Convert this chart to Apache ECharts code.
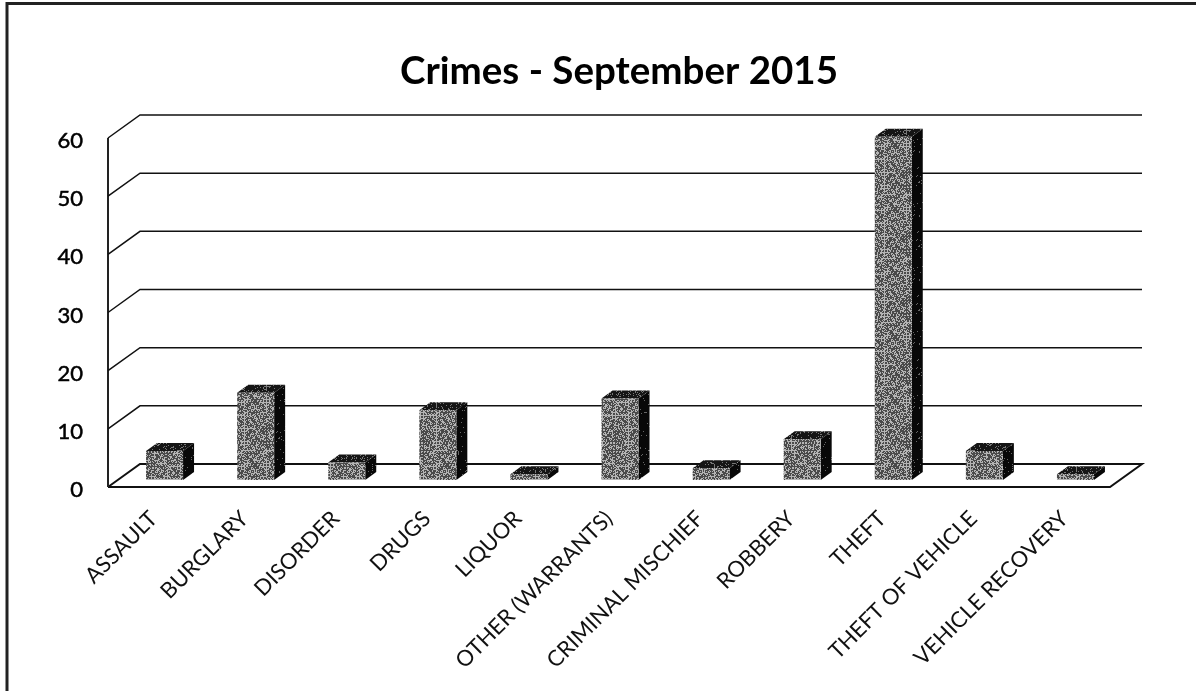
<!DOCTYPE html>
<html><head><meta charset="utf-8">
<style>html,body{margin:0;padding:0;background:#fff}#c{width:1196px;height:691px}</style>
<script src="https://cdn.jsdelivr.net/npm/echarts@6/dist/echarts.min.js"></script>
</head><body><div id="c"></div>
<script>
const categories = ['ASSAULT','BURGLARY','DISORDER','DRUGS','LIQUOR','OTHER (WARRANTS)','CRIMINAL MISCHIEF','ROBBERY','THEFT','THEFT OF VEHICLE','VEHICLE RECOVERY'];
const crimeCounts = [5,15,3,12,1,14,2,7,59,5,1];
const yTicks = [0,10,20,30,40,50,60];

function speckle(light, dark, bias){
  const size = 64, cv = document.createElement('canvas');
  cv.width = cv.height = size;
  const g = cv.getContext('2d');
  g.fillStyle = dark; g.fillRect(0,0,size,size);
  g.fillStyle = light;
  for(let y=0;y<size;y++)for(let x=0;x<size;x++){
    const h = (x*7919 + y*104729 + (x*y)%97*31) % 101;
    if(h < bias) g.fillRect(x,y,1,1);
  }
  return cv;
}
const frontFill = {image: speckle('#b4b4b4','#4a4a4a',42), repeat:'repeat'};
const topFill = {image: speckle('#777777','#151515',14), repeat:'repeat'};
const sideFill = {image: speckle('#666666','#080808',4), repeat:'repeat'};

const BAR_SHIFT = 11, BACK_DX = 32, BACK_DY = 23;

const option = {
  animation:false,
  backgroundColor:'#fff',
  textStyle:{fontFamily:'Lato'},
  title:{text:'Crimes - September 2015',left:614,top:47,textAlign:'center',
    textStyle:{fontFamily:'Lato',fontWeight:'bold',fontSize:38.5,color:'#000'}},
  graphic:[{type:'polyline',silent:true,z:100,shape:{points:[[7,691],[7,3.5],[1196,3.5]]},style:{fill:'none',stroke:'#222',lineWidth:3}}],
  grid:{left:108,right:86,top:138,bottom:204},
  xAxis:{type:'category',data:categories,
    axisLine:{show:false},axisTick:{show:false},splitLine:{show:false},
    axisLabel:{interval:0,rotate:45,margin:28,fontFamily:'Lato',fontSize:22,color:'#111'}},
  yAxis:{type:'value',min:0,max:60,interval:10,
    axisLine:{show:false},axisTick:{show:false},splitLine:{show:false},
    axisLabel:{margin:25,fontFamily:'Lato',fontSize:22,color:'#000',textBorderColor:'#000',textBorderWidth:0.5,verticalAlign:'top',lineHeight:6}},
  series:[
    {type:'custom',name:'walls',silent:true,z:1,data:yTicks.map(v=>[0,v]),
     renderItem(params,api){
       const v = api.value(1), p = api.coord([0,v]), cs = params.coordSys;
       const x0 = cs.x, xr = cs.x+cs.width, y = p[1];
       const pts = [[x0,y],[x0+BACK_DX,y-BACK_DY],[xr+BACK_DX,y-BACK_DY]];
       if(v===0) pts.push([xr,y],[x0,y]);
       const kids = [{type:'polyline',shape:{points:pts},style:{fill:'none',stroke:'#111',lineWidth:v===0?2:1.5}}];
       if(v===0){
         const top = api.coord([0,60])[1];
         kids.push({type:'line',shape:{x1:x0,y1:y,x2:x0,y2:top},style:{stroke:'#222',lineWidth:2}});
       }
       return {type:'group',children:kids};
     }},
    {type:'custom',name:'Crimes',z:2,data:crimeCounts.map((v,i)=>[i,v]),
     encode:{x:0,y:1},
     renderItem(params,api){
       const i = api.value(0), v = api.value(1);
       const baseY = api.coord([i,0])[1]-7, p = api.coord([i,v]);
       const topY = p[1]-7, w = 37, dx = 11, dy = 8;
       const cx = p[0]+BAR_SHIFT, l = cx-w/2, r = cx+w/2;
       return {type:'group',children:[
         {type:'polygon',shape:{points:[[r,topY],[r+dx,topY-dy],[r+dx,baseY-dy],[r,baseY]]},style:{fill:sideFill}},
         {type:'polygon',shape:{points:[[l,topY],[l+dx,topY-dy],[r+dx,topY-dy],[r,topY]]},style:{fill:topFill}},
         {type:'rect',shape:{x:l,y:topY,width:w,height:baseY-topY},style:{fill:frontFill}}
       ]};
     }}
  ]
};
echarts.init(document.getElementById('c')).setOption(option);
</script></body></html>
